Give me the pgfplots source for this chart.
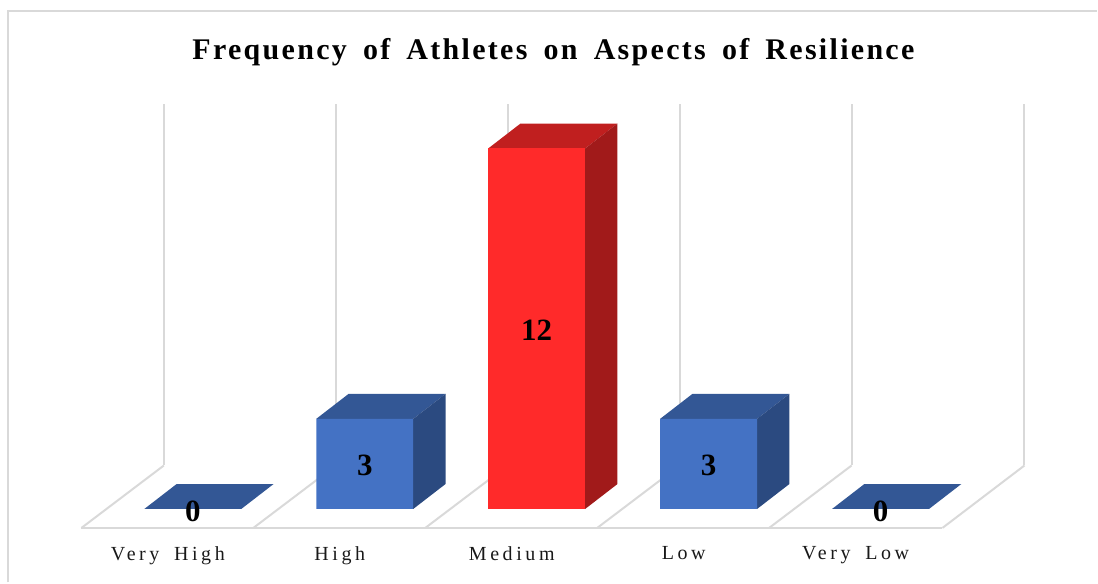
\documentclass[border=0pt]{standalone}
\usepackage{fontspec}
\usepackage{pgfplots}
\pgfplotsset{compat=1.18}
\setmainfont{Liberation Serif}
\newfontfamily\titlefont[LetterSpace=7.7,WordSpace=1.65]{Liberation Serif}
\newfontfamily\catfont[LetterSpace=18,WordSpace=1.7]{Liberation Serif}
\definecolor{gridgray}{HTML}{D9D9D9}
\definecolor{bluefront}{HTML}{4472C4}
\definecolor{bluetop}{HTML}{335795}
\definecolor{blueside}{HTML}{2B4A80}
\definecolor{redfront}{HTML}{FF2A2A}
\definecolor{redtop}{HTML}{C01F1F}
\definecolor{redside}{HTML}{A11A1A}
\pgfplotsset{gridline/.style={gridgray, line width=2pt}}
\begin{document}
\begin{tikzpicture}
\begin{axis}[
    scale only axis,
    width=944pt,
    height=424.5pt,
    xmin=-0.648, xmax=4.837,
    ymin=-0.632, ymax=13.485,
    clip=false,
    axis line style={draw=none},
    tick style={draw=none},
    ytick=\empty,
    xtick={-0.145,0.855,1.855,2.855,3.855},
    xticklabels={Very High,High,Medium,Low,Very Low},
    x tick label style={font=\fontsize{20}{24}\selectfont\catfont, text=black!90, yshift=-15pt},
    title={Frequency of Athletes on Aspects of Resilience},
    title style={font=\fontsize{30}{34}\selectfont\titlefont\bfseries, yshift=28.5pt, xshift=0.5pt},
]
% chart frame
\draw[gridgray, line width=2pt] (axis cs:-1.075,-2.445) -- (axis cs:-1.075,16.59) -- (axis cs:5.259,16.59);
\path (axis cs:-1.1215,-2.445) rectangle (axis cs:5.259,16.943);

% back wall
\addplot[gridline] coordinates {(-0.1685,1.447) (-0.1685,13.485)};
\addplot[gridline] coordinates {(0.8315,1.447) (0.8315,13.485)};
\addplot[gridline] coordinates {(1.8315,1.447) (1.8315,13.485)};
\addplot[gridline] coordinates {(2.8315,1.447) (2.8315,13.485)};
\addplot[gridline] coordinates {(3.8315,1.447) (3.8315,13.485)};
\addplot[gridline] coordinates {(4.837,1.447) (4.837,13.485)};
% floor
\addplot[gridline] coordinates {(-0.648,-0.632) (4.36,-0.632)};
\addplot[gridline] coordinates {(-0.648,-0.632) (-0.1685,1.447)};
\addplot[gridline] coordinates {(0.352,-0.632) (0.8315,1.447)};
\addplot[gridline] coordinates {(1.352,-0.632) (1.8315,1.447)};
\addplot[gridline] coordinates {(2.352,-0.632) (2.8315,1.447)};
\addplot[gridline] coordinates {(3.352,-0.632) (3.8315,1.447)};
\addplot[gridline] coordinates {(4.36,-0.632) (4.837,1.447)};

% zero bars, only the top shows
\addplot[fill=bluetop, draw=none] coordinates {(-0.282,0) (0.282,0) (0.47,0.831) (-0.094,0.831) (-0.282,0)};
\addplot[fill=bluetop, draw=none] coordinates {(3.718,0) (4.282,0) (4.47,0.831) (3.906,0.831) (3.718,0)};

% High
\addplot[fill=bluetop, draw=none] coordinates {(0.718,3) (1.282,3) (1.47,3.831) (0.906,3.831) (0.718,3)};
\addplot[fill=blueside, draw=none] coordinates {(1.282,0) (1.47,0.831) (1.47,3.831) (1.282,3) (1.282,0)};
% Low
\addplot[fill=bluetop, draw=none] coordinates {(2.718,3) (3.282,3) (3.47,3.831) (2.906,3.831) (2.718,3)};
\addplot[fill=blueside, draw=none] coordinates {(3.282,0) (3.47,0.831) (3.47,3.831) (3.282,3) (3.282,0)};
% Medium
\addplot[fill=redtop, draw=none] coordinates {(1.718,12) (2.282,12) (2.47,12.831) (1.906,12.831) (1.718,12)};
\addplot[fill=redside, draw=none] coordinates {(2.282,0) (2.47,0.831) (2.47,12.831) (2.282,12) (2.282,0)};

% front faces
\addplot[ybar, bar width=97pt, bar shift=0pt, fill=bluefront, draw=none] coordinates {(1,3) (3,3)};
\addplot[ybar, bar width=97pt, bar shift=0pt, fill=redfront, draw=none] coordinates {(2,12)};

% value labels
\addplot[draw=none, mark=none, point meta=explicit symbolic,
    nodes near coords, nodes near coords align=center,
    every node near coord/.append style={font=\fontsize{31}{34}\selectfont\bfseries, text=black}]
    coordinates {(0,-0.07)[0] (1,1.45)[3] (2,5.96)[12] (3,1.45)[3] (4,-0.07)[0]};
\end{axis}
\end{tikzpicture}
\end{document}
